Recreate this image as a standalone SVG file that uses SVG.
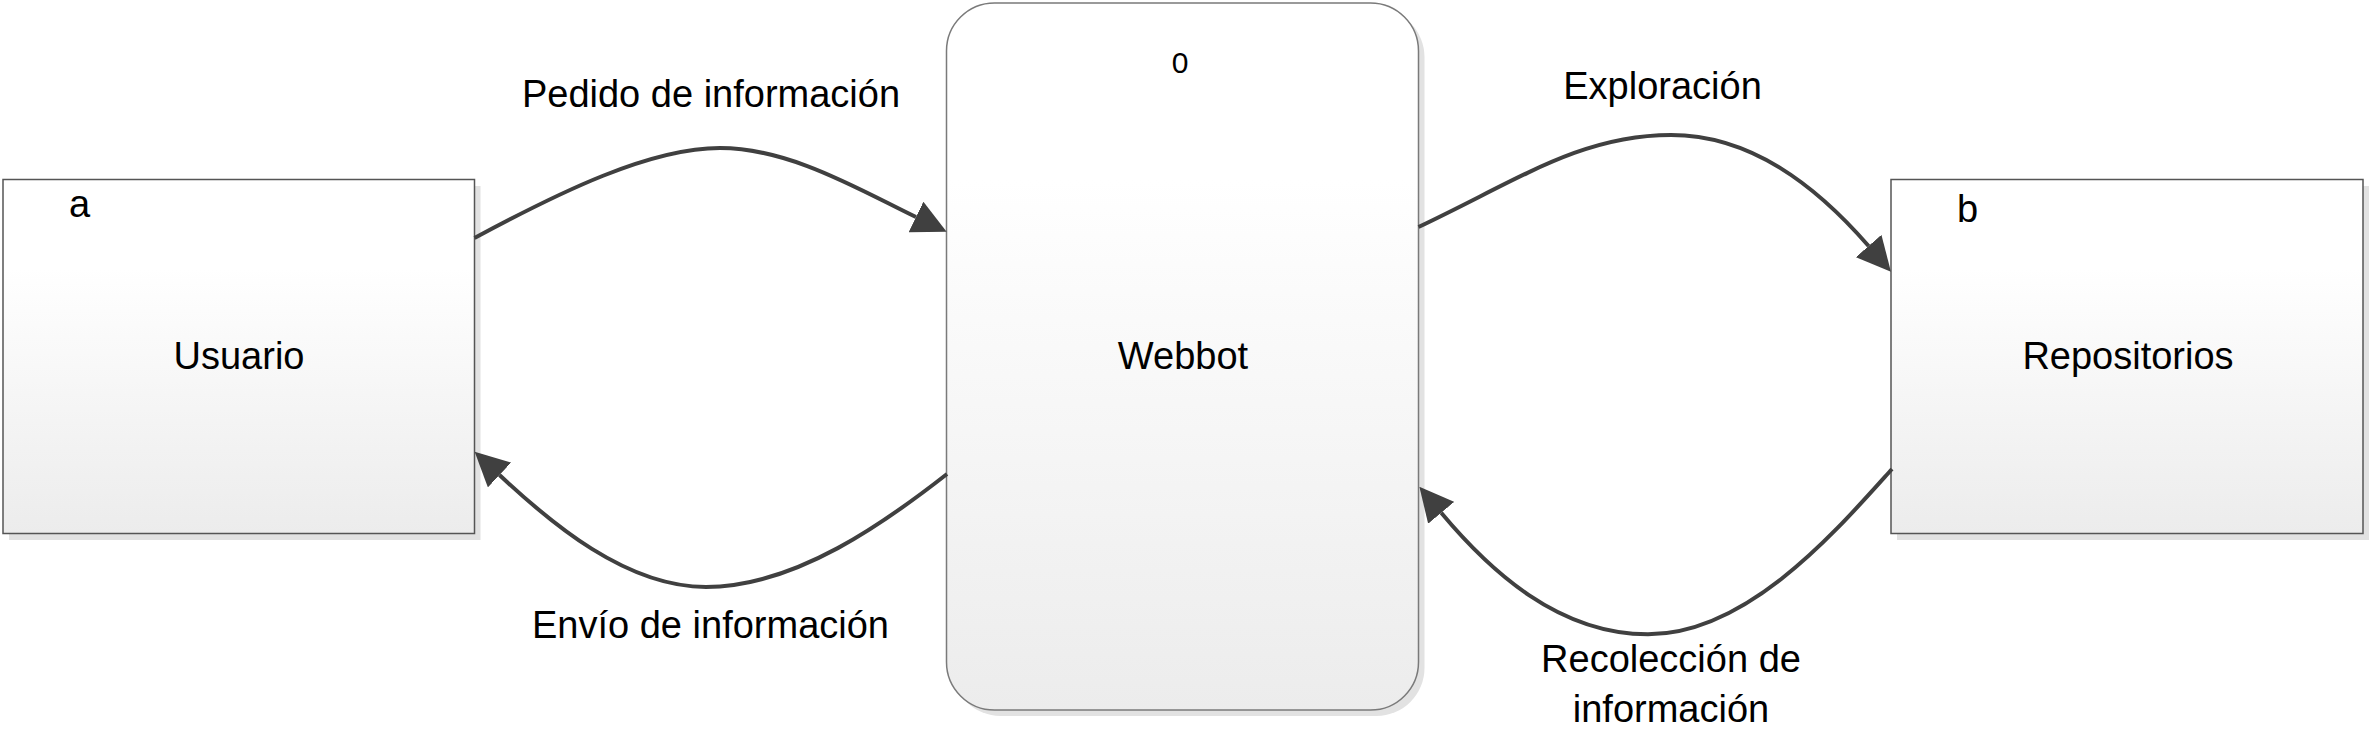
<svg xmlns="http://www.w3.org/2000/svg" width="2372" height="756" viewBox="0 0 2372 756">
<style>
.lbl{font-family:"Liberation Sans",Arial,sans-serif;font-size:38px;fill:#000}
.small{font-size:30px}
.mid{text-anchor:middle}
.box{fill:url(#grad);stroke:#555;stroke-width:1.5}
.proc{fill:url(#grad);stroke:#7a7a7a;stroke-width:1.5}
.shadow{fill:#e2e2e2}
.flow{fill:none;stroke:#404040;stroke-width:4;marker-end:url(#arrow)}
</style>
<defs>
<linearGradient id="grad" x1="0" y1="0" x2="0" y2="1">
<stop offset="0" stop-color="#ffffff"/>
<stop offset="0.25" stop-color="#ffffff"/>
<stop offset="1" stop-color="#ececec"/>
</linearGradient>
<marker id="arrow" markerUnits="userSpaceOnUse" markerWidth="34" markerHeight="34" viewBox="0 0 34 34" refX="0" refY="17" orient="auto">
<path d="M0,0 L34,17 L0,34 z" fill="#404040"/>
</marker>
</defs>
<rect width="2372" height="756" fill="#ffffff"/>
<g id="usuario">
<rect class="shadow" x="9" y="186" width="471.5" height="354"/>
<rect class="box" x="3" y="179.5" width="471.5" height="354"/>
<text class="lbl" x="69" y="217">a</text>
<text class="lbl mid" x="239" y="369">Usuario</text>
</g>
<g id="webbot">
<rect class="shadow" x="952.5" y="9" width="472" height="707" rx="48" ry="48"/>
<rect class="proc" x="946.5" y="3" width="472" height="707" rx="48" ry="48"/>
<text class="lbl small mid" x="1180" y="73">0</text>
<text class="lbl mid" x="1183" y="369">Webbot</text>
</g>
<g id="repositorios">
<rect class="shadow" x="1897" y="186" width="472" height="354"/>
<rect class="box" x="1891" y="179.5" width="472" height="354"/>
<text class="lbl" x="1957" y="222">b</text>
<text class="lbl mid" x="2128" y="369">Repositorios</text>
</g>
<g id="connectors">
<path class="flow" d="M474.5,238 C560,192 650,148 720,148 C790,148 860,190 916,217"/>
<path class="flow" d="M947,474 C887,521 796,587 706,587 C626,587 550.6,522.8 499.5,475"/>
<path class="flow" d="M1418.5,227 C1518,180 1581,135 1671,135 C1751,135 1816,185.6 1868.6,246"/>
<path class="flow" d="M1892,469 C1837,530 1748,634.3 1648,634.3 C1558,634.3 1489.3,570.3 1441.2,512.8"/>
</g>
<g id="labels">
<text class="lbl mid" x="711" y="107">Pedido de información</text>
<text class="lbl mid" x="710.5" y="638">Envío de información</text>
<text class="lbl mid" x="1662.5" y="99">Exploración</text>
<text class="lbl mid" x="1671" y="672">Recolección de</text>
<text class="lbl mid" x="1671" y="722">información</text>
</g>
</svg>
